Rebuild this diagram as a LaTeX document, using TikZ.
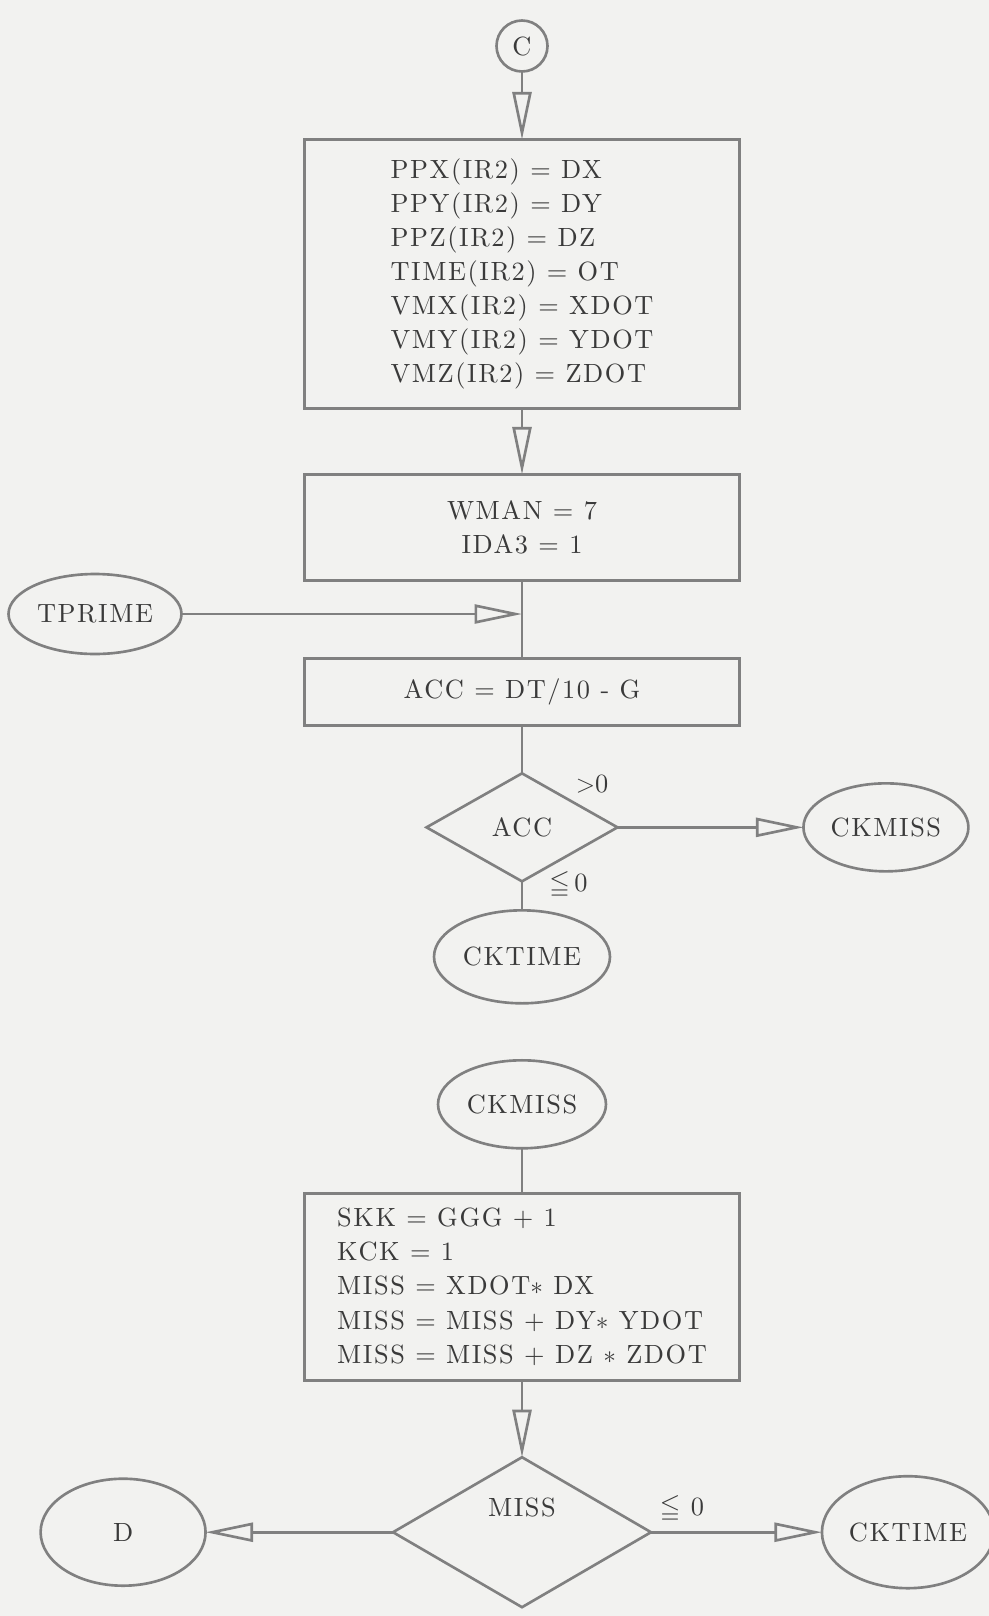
\documentclass[tikz,border=0pt]{standalone}
\usepackage{fontspec}
\usepackage{amssymb}
\usetikzlibrary{positioning,shapes.geometric,arrows.meta}
\newfontfamily\flowfamily{lmroman10-regular.otf}[LetterSpace=6]
\newcommand{\flowfont}{\flowfamily\fontsize{15}{19.4}\selectfont}
\definecolor{paper}{RGB}{242,242,240}
\definecolor{ink}{RGB}{58,58,58}
\definecolor{rule}{RGB}{128,128,128}

\begin{document}
\begin{tikzpicture}[
    x=0.02cm, y=-0.02cm,
    node distance=1cm,
    inkline/.style={draw=rule, line width=1.5pt},
    arr/.style={inkline, -{Triangle[open, length=0.95cm, width=0.38cm]}},
    proc/.style={rectangle, inkline, text=ink, font=\flowfont, outer sep=0pt,
                 minimum width=8.7cm, align=center, inner sep=2pt},
    term/.style={ellipse, inkline, text=ink, font=\flowfont, outer sep=0pt, inner sep=1pt},
    conn/.style={circle, inkline, text=ink, font=\flowfont, outer sep=0pt,
                 minimum size=1.02cm, inner sep=1pt},
    dec/.style={diamond, inkline, text=ink, font=\flowfont, outer sep=0pt, inner sep=1pt},
    lbl/.style={text=ink, font=\flowfont, inner sep=1pt}
  ]

    % Paper
    \fill[paper] (0,0) rectangle (989,1616);
    \useasboundingbox (0,0) rectangle (989,1616);

    % Nodes
    \node[conn] (c) at (522,46) {C};
    \node[proc, align=left, minimum height=5.38cm, below=1.36cm of c] (put)
      {PPX(IR2) = DX\\ PPY(IR2) = DY\\ PPZ(IR2) = DZ\\ TIME(IR2) = OT\\
       VMX(IR2) = XDOT\\ VMY(IR2) = YDOT\\ VMZ(IR2) = ZDOT};
    \node[proc, minimum height=2.12cm, below=1.32cm of put] (wman)
      {WMAN = 7\\ IDA3 = 1};
    \node[proc, minimum height=1.34cm, below=1.56cm of wman] (accbox)
      {ACC = DT/10 - G};
    \node[dec, minimum width=3.82cm, minimum height=2.16cm, below=0.96cm of accbox] (acc) {ACC};
    \node[term, minimum width=3.3cm, minimum height=1.76cm, right=3.72cm of acc] (ckmiss) {CKMISS};
    \node[term, minimum width=3.52cm, minimum height=1.86cm, below=0.58cm of acc] (cktime) {CKTIME};
    \node[term, minimum width=3.36cm, minimum height=1.76cm, below=1.14cm of cktime] (ckmissent) {CKMISS};
    \node[proc, align=left, minimum height=3.74cm, below=0.9cm of ckmissent] (misscalc)
      {SKK = GGG + 1\\ KCK = 1\\ MISS = XDOT$\ast$ DX\\
       MISS = MISS + DY$\ast$ YDOT\\ MISS = MISS + DZ $\ast$ ZDOT};
    \node[dec, minimum width=5.16cm, minimum height=3cm, below=1.54cm of misscalc,
          label={[lbl, yshift=0.5cm]center:MISS}] (miss) {};
    \node[term, minimum width=3.3cm, minimum height=2.14cm, left=3.75cm of miss] (d) {D};
    \node[term, minimum width=3.3cm, minimum height=2.24cm, right=3.42cm of miss] (cktimeend) {CKTIME};
    \node[term, minimum width=3.46cm, minimum height=1.6cm] (tprime) at (95,614) {TPRIME};
    \coordinate (join) at (tprime -| wman.south);

    % Branch labels
    \node[lbl] (gt) at ([xshift=1.4cm, yshift=-0.22cm]acc.north) {$>$0};
    \node[lbl] (le) at ([xshift=0.93cm, yshift=-0.08cm]acc.south) {$\leqq$\,0};
    \node[lbl] (lemiss) at ([xshift=0.62cm, yshift=0.46cm]miss.east) {$\leqq$ 0};

    % Arrows
    \draw[arr] (c) -- (put);
    \draw[arr] (put) -- (wman);
    \draw[inkline] (wman) -- (accbox);
    \draw[arr] (tprime) -- (join);
    \draw[inkline] (accbox) -- (acc);
    \draw[arr] (acc) -- (ckmiss);
    \draw[inkline] (acc) -- (cktime);
    \draw[inkline] (ckmissent) -- (misscalc);
    \draw[arr] (misscalc) -- (miss);
    \draw[arr] (miss) -- (d);
    \draw[arr] (miss) -- (cktimeend);

  \end{tikzpicture}
\end{document}
